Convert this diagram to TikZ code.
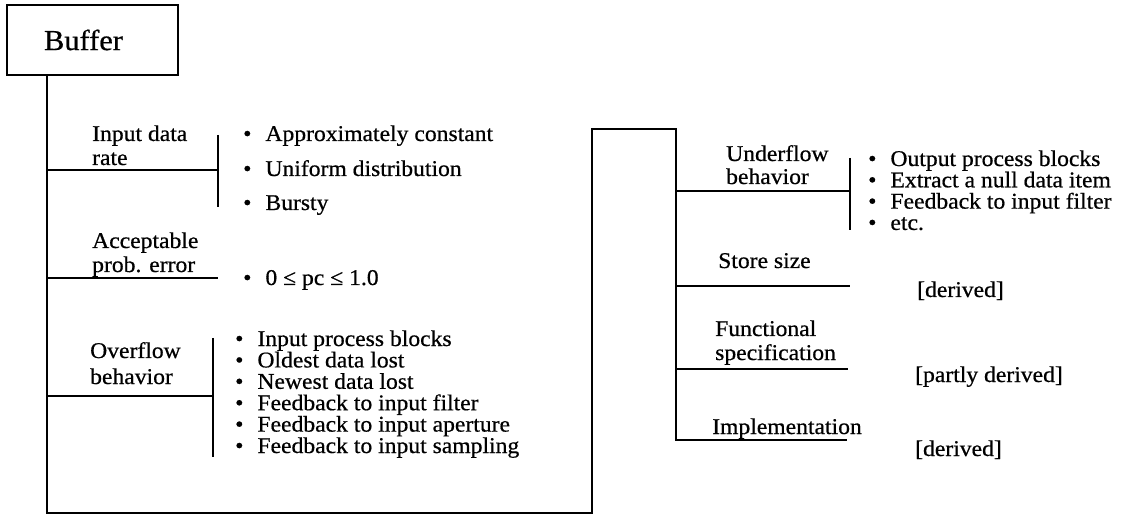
\documentclass[tikz,border=0pt]{standalone}
\usepackage{fontspec}
\setmainfont{Liberation Serif}[FakeStretch=1.05,FakeBold=0.6]
\newcommand\bul{\textbullet\hspace{14pt}}
\begin{document}
\begin{tikzpicture}[x=1pt,y=-1pt,
  txt/.style={inner sep=0pt,anchor=base west,align=left,
    font=\fontsize{22.5pt}{24pt}\selectfont},
  itemtxt/.style={txt},
  spine/.style={line width=2.8pt,line cap=rect,line join=miter},
  branch/.style={line width=2pt},
  brace/.style={line width=2.4pt}]
  \useasboundingbox[fill=white] (0,0) rectangle (1138,521);

  % root box
  \node[draw,line width=2.6pt,minimum width=171pt,minimum height=70pt,inner sep=0pt,
        font=\fontsize{29pt}{29pt}\selectfont] (buffer) at (92.5,40) {Buffer\kern18pt};

  % junction points of the frame
  \coordinate (s0) at (47,75);
  \coordinate (s1) at (47,170);
  \coordinate (s2) at (47,278);
  \coordinate (s3) at (47,396);
  \coordinate (s4) at (47,513);
  \coordinate (s5) at (592,513);
  \coordinate (s6) at (592,129);
  \coordinate (s7) at (676,129);
  \coordinate (r1) at (676,191);
  \coordinate (r2) at (676,286);
  \coordinate (r3) at (676,369);
  \coordinate (r4) at (676,440);

  % branch ends and brackets
  \coordinate (b1) at (218,170);
  \coordinate (b1t) at (218,135);
  \coordinate (b1b) at (218,207);
  \coordinate (b2) at (218,278);
  \coordinate (b3) at (213,396);
  \coordinate (b3t) at (213,338);
  \coordinate (b3b) at (213,457);
  \coordinate (c1) at (850,191);
  \coordinate (c1t) at (850,158);
  \coordinate (c1b) at (850,230);
  \coordinate (c2) at (850,286);
  \coordinate (c3) at (848,369);
  \coordinate (c4) at (846,440);

  % main frame line
  \draw[spine] (buffer.south -| s0) -- (s4) -- (s5) -- (s6) -- (s7) -- (r4) -- (c4);

  % left branches
  \draw[branch] (s1) -- (b1);
  \draw[brace] (b1t) -- (b1b);
  \draw[branch] (s2) -- (b2);
  \draw[branch] (s3) -- (b3);
  \draw[brace] (b3t) -- (b3b);

  % right branches
  \draw[branch] (r1) -- (c1);
  \draw[brace] (c1t) -- (c1b);
  \draw[branch] (r2) -- (c2);
  \draw[branch] (r3) -- (c3);

  % left labels
  \node[txt] (rate1) at (92,141) {Input data};
  \node[txt] (rate2) at (92,165) {rate};
  \node[txt] (err1) at (92,248) {Acceptable};
  \node[txt] (err2) at (92,272) {prob. error};
  \node[txt] (ovf1) at (90,358) {Overflow};
  \node[txt] (ovf2) at (90,384) {behavior};

  % left value lists
  \node[itemtxt] (ra1) at (243,141) {\bul Approximately constant};
  \node[itemtxt] (ra2) at (243,176) {\bul Uniform distribution};
  \node[itemtxt] (ra3) at (243,210) {\bul Bursty};
  \node[itemtxt] (pe1) at (243,285) {\bul 0 ≤ pc ≤ 1.0};
  \foreach \t [count=\i] in {Input process blocks,Oldest data lost,Newest data lost,
      Feedback to input filter,Feedback to input aperture,Feedback to input sampling}
    \node[itemtxt] (ov\i) at (235,{346+21.4*(\i-1)}) {\bul \t};

  % right labels
  \node[txt] (und1) at (726,161) {Underflow};
  \node[txt] (und2) at (726,184) {behavior};
  \node[txt] (store) at (718,268) {Store size};
  \node[txt] (func1) at (715,336) {Functional};
  \node[txt] (func2) at (715,360) {specification};
  \node[txt] (impl) at (712,434) {Implementation};

  % right value lists
  \foreach \t [count=\i] in {Output process blocks,Extract a null data item,
      Feedback to input filter,etc.}
    \node[itemtxt] (un\i) at (868,{166+21.3*(\i-1)}) {\bul \t};
  \node[txt] (storev) at (917,297) {[derived]};
  \node[txt] (funcv) at (915,382) {[partly derived]};
  \node[txt] (implv) at (915,456) {[derived]};
\end{tikzpicture}
\end{document}
